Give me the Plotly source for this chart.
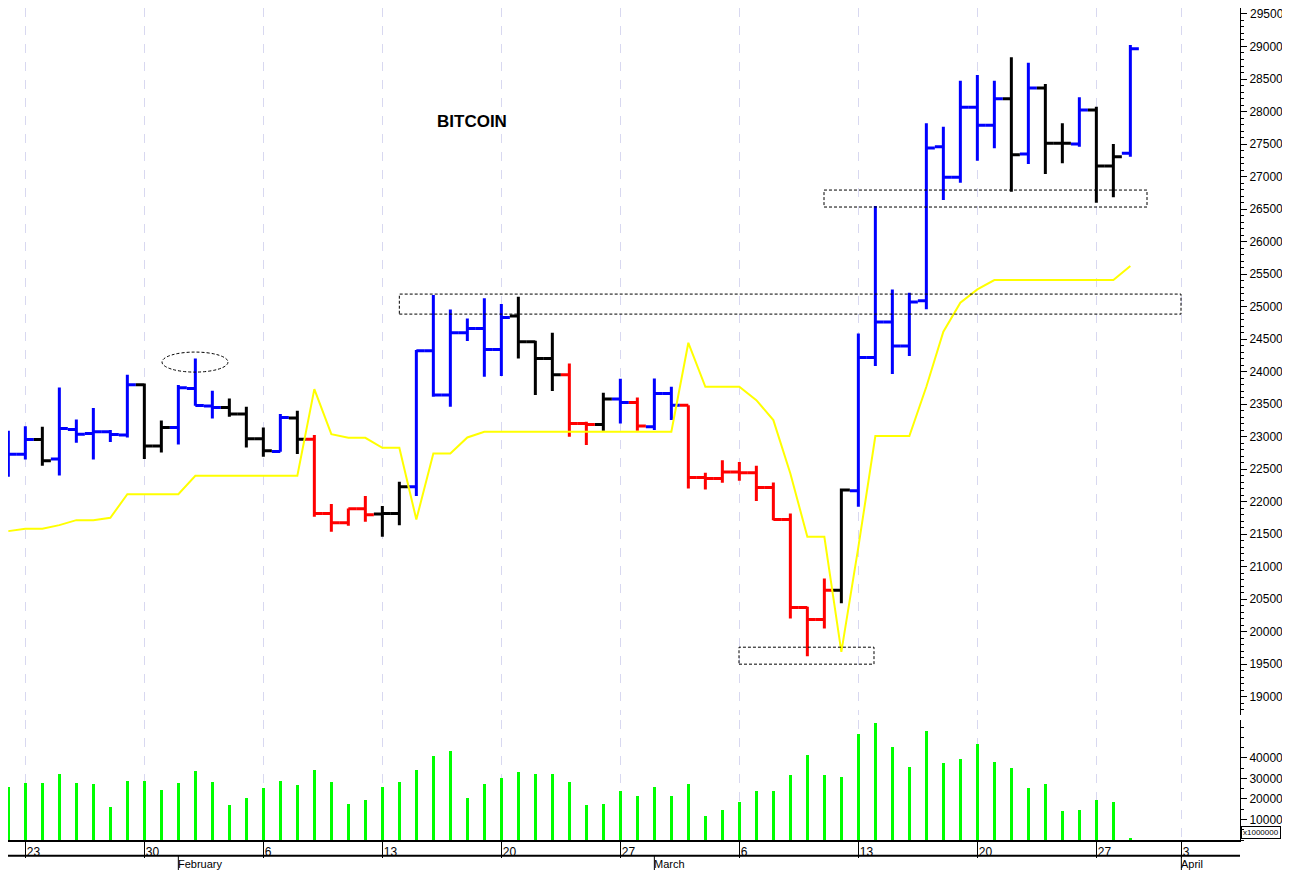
import pandas as pd
import plotly.graph_objects as go
from plotly.subplots import make_subplots

# daily bars, 22 Jan -> 29 Mar
dates = pd.date_range("2023-01-22", periods=67, freq="D")

opens = [22792, 22730, 22956, 22654, 23110, 23048, 23074, 23023, 23797, 22854,
         23141, 23741, 23469, 23449, 23346, 22967, 22772, 23285, 22961, 21818,
         21674, 21890, 21808, 21818, 22228, 24320, 23638, 24597, 24664, 24341,
         24854, 24459, 24202, 23951, 23203, 23187, 23577, 23525, 23151, 23664,
         23484, 22372, 22356, 22454, 22444, 22218, 21725, 20372, 20187, 20638,
         22167, 24218, 24762, 24392, 25090, 27459, 26987, 28064, 27787, 28198,
         27346, 28362, 27510, 27500, 28023, 27162, 27357]
highs = [23090, 23161, 23151, 23756, 23264, 23438, 23100, 23951, 23818, 23249,
         23792, 24202, 23705, 23587, 23459, 23141, 23346, 23397, 23023, 21962,
         21895, 22085, 21931, 22305, 24331, 25177, 24956, 24818, 25126, 25038,
         25151, 24474, 24597, 24125, 23228, 23674, 23890, 23602, 23895, 23766,
         23484, 22444, 22638, 22608, 22551, 22295, 21818, 20382, 20818, 22203,
         24587, 26546, 25264, 25213, 27818, 27767, 28474, 28562, 28474, 28833,
         28751, 28423, 27818, 28218, 28074, 27500, 29023]
lows = [22382, 22649, 22551, 22403, 22905, 22649, 22915, 22987, 22654, 22756,
        22879, 23474, 23279, 23305, 22833, 22690, 22767, 22731, 21767, 21536,
        21628, 21690, 21459, 21638, 22085, 23613, 23459, 24469, 23920, 23931,
        24202, 23638, 23700, 22997, 22869, 23090, 23203, 23090, 23100, 23254,
        22202, 22187, 22290, 22320, 22008, 21715, 20203, 19623, 20049, 20438,
        21921, 24085, 23962, 24239, 24957, 26639, 26905, 27244, 27433, 26767,
        27192, 27038, 27203, 27459, 26597, 26680, 27305]
closes = [22730, 22956, 22628, 23126, 23038, 23074, 23033, 23797, 22854, 23141,
          23751, 23479, 23449, 23346, 22967, 22782, 23295, 22961, 21818, 21674,
          21890, 21797, 21818, 22228, 24320, 23638, 24597, 24664, 24341, 24833,
          24459, 24202, 23951, 23203, 23187, 23577, 23525, 23162, 23664, 23484,
          22372, 22356, 22454, 22444, 22218, 21725, 20372, 20187, 20638, 22177,
          24218, 24762, 24392, 25070, 27439, 26987, 28064, 27787, 28198, 27336,
          28362, 27510, 27510, 28023, 27162, 27305, 28967]
bar_colors = list("BBKBBBBBKKBBBKKKBKRRRRKKBBBBBBKKKRRKBRBBRRRRRRRRRKBBBBBBBBBKBKKBKKB")

yellow_line = [21546, 21582, 21582, 21638, 21715, 21715, 21751, 22115, 22115, 22115,
               22115, 22397, 22397, 22397, 22397, 22397, 22397, 22397, 23730, 23038,
               22982, 22982, 22828, 22828, 21725, 22741, 22741, 22987, 23074, 23074,
               23074, 23074, 23074, 23074, 23074, 23074, 23074, 23074, 23074, 23074,
               24443, 23766, 23766, 23766, 23561, 23254, 22433, 21459, 21459, 19690,
               21300, 23008, 23008, 23008, 23767, 24613, 25059, 25264, 25408, 25408,
               25408, 25408, 25408, 25408, 25408, 25408, 25623]

volume = [25840, 27500, 27840, 32000, 27840, 27000, 15840, 28840, 28840, 24170,
          27840, 33670, 28170, 17000, 20500, 25170, 28840, 26840, 34170, 28340,
          17340, 19340, 25500, 28340, 34170, 40840, 43340, 20500, 27000, 30170,
          32840, 31840, 32170, 28340, 17170, 17670, 24000, 21500, 25840, 21340,
          27170, 11670, 14500, 18670, 23840, 23840, 31500, 41170, 31500, 30670,
          51340, 56840, 45340, 35340, 52840, 37340, 39170, 46670, 38000, 34840,
          25340, 27340, 14170, 14670, 19170, 18670, 700]

week_ticks = pd.to_datetime(["2023-01-23", "2023-01-30", "2023-02-06", "2023-02-13",
                             "2023-02-20", "2023-02-27", "2023-03-06", "2023-03-13",
                             "2023-03-20", "2023-03-27", "2023-04-01"])
week_labels = ["23", "30", "6", "13", "20", "27", "6", "13", "20", "27", "3"]
months = ["February", "March", "April"]
month_starts = pd.to_datetime(["2023-02-01", "2023-03-01", "2023-04-01"])
price_ticks = list(range(19000, 29501, 500))
vol_ticks = [10000, 20000, 30000, 40000]

day0 = dates[0]
def day(d):
    return day0 + pd.Timedelta(days=d)

# page has an 8px body margin, figure is sized to fit inside it
fig = make_subplots(rows=2, cols=1, shared_xaxes=True, vertical_spacing=0.006,
                    row_heights=[0.85, 0.144])

color_map = {"B": "#0000ff", "K": "#000000", "R": "#ff0000"}
for key, col in color_map.items():
    idx = [i for i, c in enumerate(bar_colors) if c == key]
    fig.add_trace(go.Ohlc(
        x=[dates[i] for i in idx], open=[opens[i] for i in idx],
        high=[highs[i] for i in idx], low=[lows[i] for i in idx],
        close=[closes[i] for i in idx], tickwidth=0.5,
        increasing=dict(line=dict(color=col, width=3)),
        decreasing=dict(line=dict(color=col, width=3)),
        showlegend=False, hoverinfo="skip"), row=1, col=1)

fig.add_trace(go.Scatter(x=dates, y=yellow_line, mode="lines",
                         line=dict(color="#ffff00", width=2), showlegend=False),
              row=1, col=1)

fig.add_trace(go.Bar(x=dates, y=volume, marker_color="#00ff00", marker_line_width=0,
                     width=0.15 * 86400000, showlegend=False), row=2, col=1)

grid = dict(showgrid=True, gridcolor="#d8d8f0", griddash="dash", gridwidth=1)
fig.update_xaxes(type="date", range=[day(-0.02), day(72.45)], tickvals=week_ticks,
                 rangeslider_visible=False, **grid)
fig.update_xaxes(showticklabels=False, ticks="", row=1, col=1)
fig.update_xaxes(ticktext=week_labels, ticks="outside", ticklen=16, tickcolor="black",
                 showline=True, linecolor="black", linewidth=2,
                 ticklabelposition="outside right",
                 tickfont=dict(family="Arial", size=12, color="black"), row=2, col=1)

axis_font = dict(family="Arial", size=12, color="black")
fig.update_yaxes(side="right", showgrid=False, zeroline=False, showline=True,
                 linecolor="black", linewidth=1, ticks="outside", ticklen=6,
                 tickcolor="black", tickfont=axis_font)
fig.update_yaxes(range=[18715, 29592], tickvals=price_ticks,
                 ticktext=[str(v) for v in price_ticks],
                 minor=dict(dtick=100, ticks="outside", ticklen=3, tickcolor="black"),
                 row=1, col=1)
fig.update_yaxes(range=[0, 58400], tickvals=vol_ticks,
                 ticktext=[str(v) for v in vol_ticks],
                 minor=dict(dtick=5000, ticks="outside", ticklen=3, tickcolor="black"),
                 row=2, col=1)

# top label gets dropped by plotly at the very edge, so write it out
fig.add_annotation(x=1.0, y=price_ticks[-1], xref="paper", yref="y", text=str(price_ticks[-1]),
                   showarrow=False, xanchor="left", xshift=8, font=axis_font)

# dashed zones
def zone(x0, x1, y0, y1, kind="rect"):
    fig.add_shape(type=kind, x0=day(x0), x1=day(x1), y0=y0, y1=y1, xref="x", yref="y",
                  line=dict(color="black", width=1, dash="3px,2px"))

zone(9.04, 12.92, 23992, 24300, "circle")
zone(23.0, 68.98, 24884, 25192)
zone(42.98, 50.92, 19500, 19761)
zone(47.98, 66.98, 26531, 26792)

# month row under the day labels
fig.add_shape(type="line", xref="paper", yref="paper", x0=0, x1=1, y0=-0.019, y1=-0.019,
              line=dict(color="black", width=2))
for m, d in zip(months, month_starts):
    fig.add_shape(type="line", xref="x", yref="paper", x0=d, x1=d, y0=-0.019, y1=-0.04,
                  line=dict(color="black", width=1))
    fig.add_annotation(x=d, y=-0.02, xref="x", yref="paper", text=m, showarrow=False,
                       xanchor="left", yanchor="top", xshift=-2, yshift=1,
                       font=dict(family="Arial", size=11, color="black"))

fig.add_annotation(x=day(27.3), y=27854, xref="x", yref="y", text="<b>BITCOIN</b>",
                   showarrow=False, font=dict(family="Arial", size=17, color="black"))
fig.add_annotation(x=1.0, y=0, xref="paper", yref="paper", text="x1000000",
                   showarrow=False, xanchor="left", yanchor="bottom", xshift=1, yshift=1,
                   bordercolor="black", borderwidth=1, borderpad=1,
                   font=dict(family="Arial", size=8, color="black"))

fig.update_layout(width=1282, height=862, margin=dict(l=0, r=50, t=0, b=30),
                  plot_bgcolor="white", paper_bgcolor="white", bargap=0)

fig.write_html("out.html")
